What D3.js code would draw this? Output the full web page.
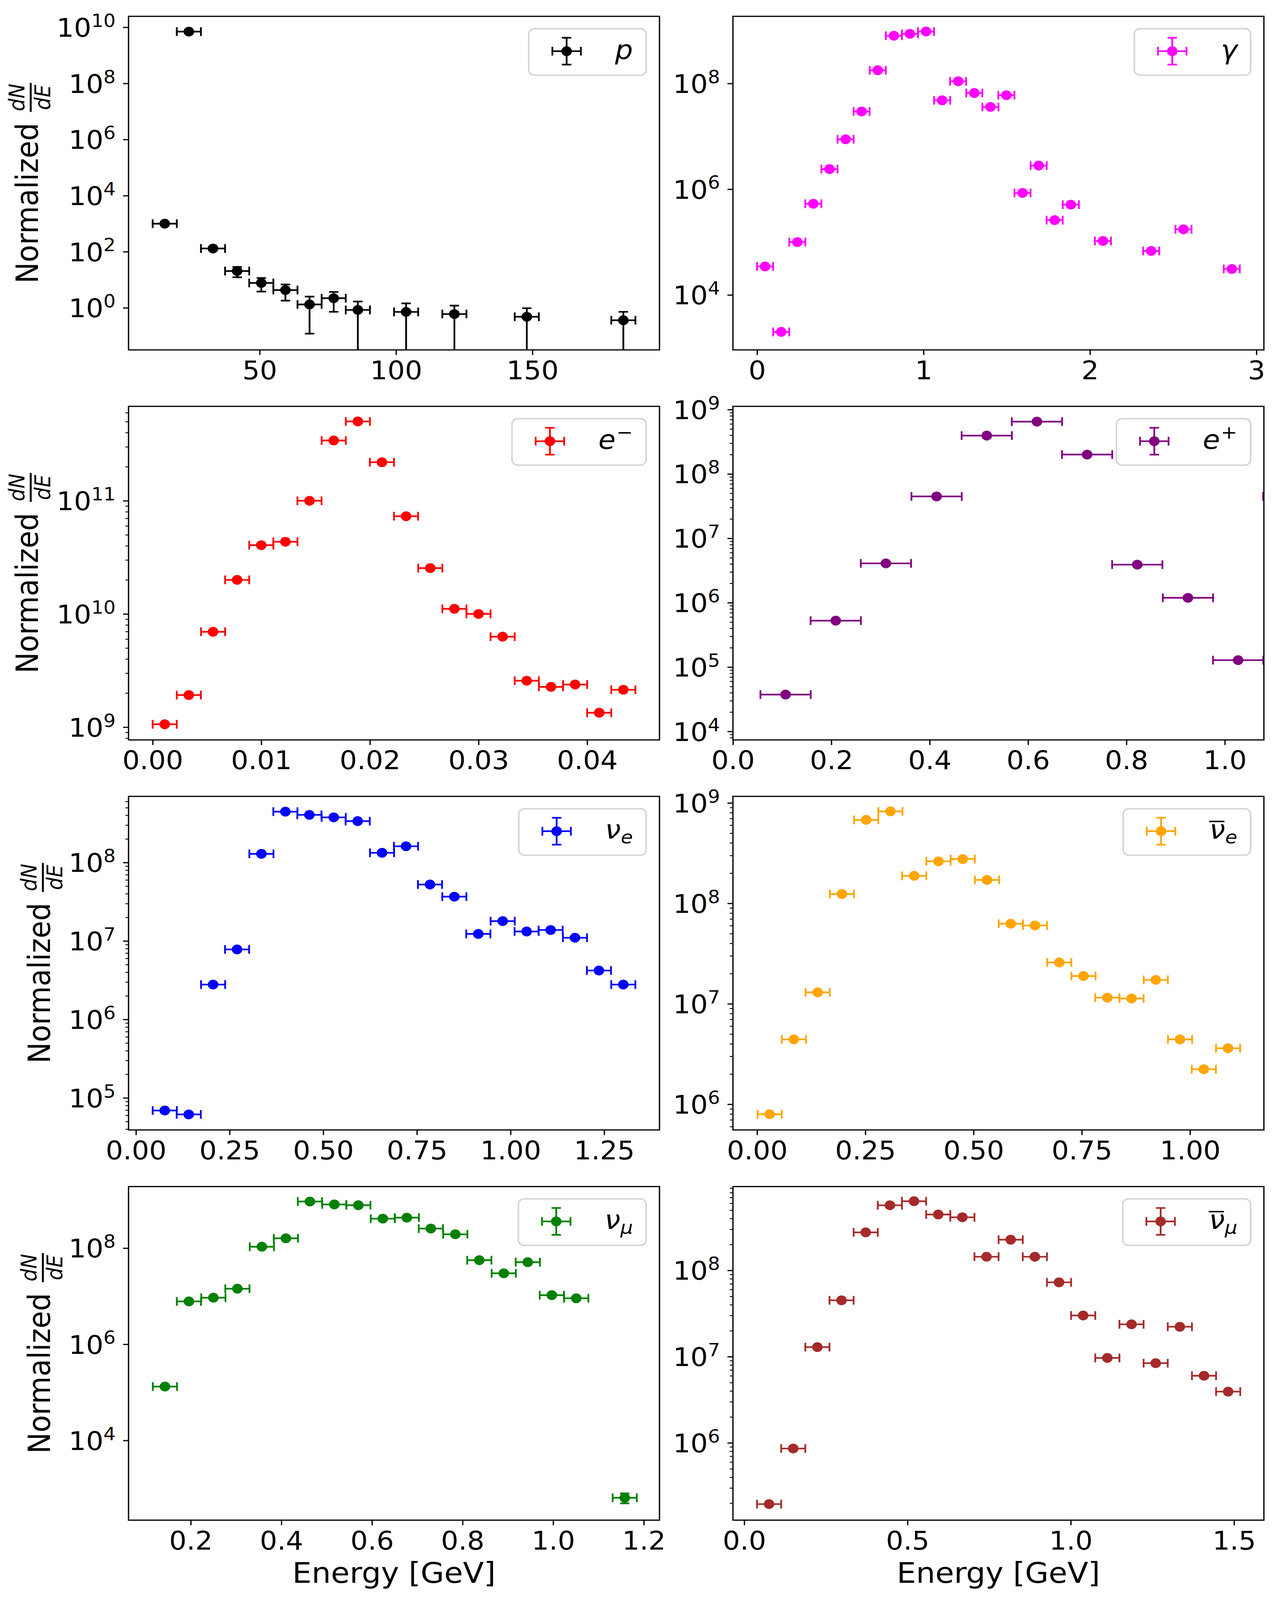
<!DOCTYPE html>
<html><head><meta charset="utf-8">
<script src="https://cdn.jsdelivr.net/npm/d3@7/dist/d3.min.js"></script>
<style>
html,body{margin:0;padding:0;background:#fff;width:100%;height:100%;overflow:hidden;}
svg{display:block;width:100vw;height:100vh;}
text{font-family:"DejaVu Sans",sans-serif;}
</style>
</head><body>
<svg id="chart" viewBox="0 0 3266 4408" preserveAspectRatio="none" xmlns="http://www.w3.org/2000/svg"></svg>
<script>
// ---------------- DATA ----------------
const protonE   = [15.2, 24.05, 32.9, 41.75, 50.6, 59.45, 68.3, 77.15, 86.0, 103.7, 121.4, 147.95, 183.35];
const protonN   = [1000, 7.0e9, 130, 20.5, 7.7, 4.3, 1.32, 2.2, 0.84, 0.715, 0.60, 0.48, 0.36];
const protonErr = [0, 0, 0, 8.2, 3.9, 2.5, 1.2, 1.48, 0.84, 0.73, 0.60, 0.49, 0.36];
const protonHalfBin = 4.425;

const gammaE = [0.048, 0.145, 0.242, 0.338, 0.435, 0.532, 0.628, 0.725, 0.822, 0.918, 1.015, 1.112, 1.208, 1.305, 1.402, 1.498, 1.595, 1.692, 1.788, 1.885, 2.078, 2.368, 2.562, 2.852];
const gammaN = [3.46e4, 2.0e3, 1.0e5, 5.3e5, 2.4e6, 8.8e6, 2.95e7, 1.78e8, 8.0e8, 8.7e8, 9.6e8, 4.8e7, 1.1e8, 6.6e7, 3.6e7, 6.0e7, 8.5e5, 2.8e6, 2.6e5, 5.1e5, 1.05e5, 6.8e4, 1.74e5, 3.1e4];
const gammaHalfBin = 0.0483;

const electronE = [0.00111, 0.00333, 0.00556, 0.00778, 0.0100, 0.01222, 0.01444, 0.01667, 0.01889, 0.02111, 0.02333, 0.02556, 0.02778, 0.0300, 0.03222, 0.03444, 0.03667, 0.03889, 0.04111, 0.04333];
const electronN = [1.06e9, 1.92e9, 6.96e9, 2.0e10, 4.05e10, 4.34e10, 1.0e11, 3.41e11, 5.02e11, 2.19e11, 7.3e10, 2.54e10, 1.11e10, 1.0e10, 6.3e9, 2.57e9, 2.27e9, 2.38e9, 1.34e9, 2.14e9];
const electronHalfBin = 0.00111;

const positronE = [0.107, 0.209, 0.311, 0.414, 0.516, 0.618, 0.720, 0.822, 0.925, 1.027, 1.129];
const positronN = [3.74e4, 5.26e5, 4.08e6, 4.47e7, 3.94e8, 6.5e8, 2.0e8, 3.9e6, 1.19e6, 1.28e5, 4.5e7];
const positronHalfBin = 0.0511;

const nueE = [0.077, 0.141, 0.206, 0.270, 0.335, 0.399, 0.463, 0.528, 0.592, 0.657, 0.721, 0.785, 0.850, 0.914, 0.979, 1.043, 1.107, 1.172, 1.236, 1.301];
const nueN = [6.9e4, 6.15e4, 2.78e6, 7.8e6, 1.29e8, 4.45e8, 4.05e8, 3.76e8, 3.37e8, 1.33e8, 1.61e8, 5.24e7, 3.67e7, 1.23e7, 1.79e7, 1.32e7, 1.38e7, 1.1e7, 4.2e6, 2.78e6];
const nueHalfBin = 0.0322;

const nuebarE = [0.029, 0.085, 0.140, 0.196, 0.252, 0.308, 0.363, 0.419, 0.475, 0.531, 0.586, 0.642, 0.698, 0.754, 0.809, 0.865, 0.921, 0.977, 1.032, 1.088];
const nuebarN = [7.95e5, 4.42e6, 1.30e7, 1.24e8, 6.78e8, 8.24e8, 1.88e8, 2.62e8, 2.76e8, 1.71e8, 6.27e7, 6.02e7, 2.58e7, 1.89e7, 1.15e7, 1.13e7, 1.73e7, 4.42e6, 2.23e6, 3.61e6];
const nuebarHalfBin = 0.0279;

const numuE   = [0.143, 0.196, 0.250, 0.303, 0.357, 0.410, 0.463, 0.517, 0.570, 0.624, 0.677, 0.730, 0.784, 0.837, 0.891, 0.944, 0.997, 1.051, 1.158];
const numuN   = [1.32e5, 7.78e6, 9.3e6, 1.43e7, 1.07e8, 1.6e8, 9.3e8, 8.1e8, 7.8e8, 4.1e8, 4.3e8, 2.55e8, 1.94e8, 5.6e7, 2.99e7, 5.1e7, 1.05e7, 9.06e6, 640];
const numuErr = [0, 0, 0, 0, 0, 0, 0, 0, 0, 0, 0, 0, 0, 0, 0, 0, 0, 0, 150];
const numuHalfBin = 0.0267;

const numubarE = [0.076, 0.150, 0.224, 0.298, 0.372, 0.446, 0.520, 0.594, 0.668, 0.742, 0.816, 0.890, 0.964, 1.038, 1.112, 1.186, 1.260, 1.334, 1.408, 1.482];
const numubarN = [1.95e5, 8.6e5, 1.29e7, 4.5e7, 2.76e8, 5.69e8, 6.34e8, 4.45e8, 4.13e8, 1.44e8, 2.27e8, 1.44e8, 7.27e7, 3.0e7, 9.65e6, 2.37e7, 8.4e6, 2.22e7, 6.0e6, 3.93e6];
const numubarHalfBin = 0.037;

// axis limits (x linear, y as log10 exponents) and tick labels
const protonXLim = [1.93, 196.6],     protonYExp = [-1.5, 10.39];
const gammaXLim = [-0.145, 3.045],    gammaYExp = [2.96, 9.27];
const electronXLim = [-0.00222, 0.04666], electronYExp = [8.887, 11.834];
const positronXLim = [0, 1.0794],     positronYExp = [3.868, 9.05];
const nueXLim = [-0.0197, 1.3976],    nueYExp = [4.591, 8.843];
const nuebarXLim = [-0.0558, 1.1707], nuebarYExp = [5.744, 9.065];
const numuXLim = [0.0627, 1.2347],    numuYExp = [2.342, 9.28];
const numubarXLim = [-0.0346, 1.5914], numubarYExp = [5.104, 8.972];

const protonXTicks = [50, 100, 150],            protonYTicks = [0, 2, 4, 6, 8, 10];
const gammaXTicks = [0, 1, 2, 3],               gammaYTicks = [4, 6, 8];
const electronXTicks = [0, 0.01, 0.02, 0.03, 0.04], electronYTicks = [9, 10, 11];
const positronXTicks = [0, 0.2, 0.4, 0.6, 0.8, 1.0], positronYTicks = [4, 5, 6, 7, 8, 9];
const nueXTicks = [0, 0.25, 0.5, 0.75, 1.0, 1.25], nueYTicks = [5, 6, 7, 8];
const nuebarXTicks = [0, 0.25, 0.5, 0.75, 1.0],  nuebarYTicks = [6, 7, 8, 9];
const numuXTicks = [0.2, 0.4, 0.6, 0.8, 1.0, 1.2], numuYTicks = [4, 6, 8];
const numubarXTicks = [0, 0.5, 1.0, 1.5],        numubarYTicks = [6, 7, 8];

const panels = [
  {E: protonE, N: protonN, err: protonErr, half: protonHalfBin, color: '#000000', xLim: protonXLim, yExp: protonYExp, xTicks: protonXTicks, yTicks: protonYTicks, fmt: 'd', minor: false, leg: {main: 'p'}},
  {E: gammaE, N: gammaN, err: null, half: gammaHalfBin, color: '#ff00ff', xLim: gammaXLim, yExp: gammaYExp, xTicks: gammaXTicks, yTicks: gammaYTicks, fmt: 'd', minor: false, leg: {main: 'γ'}},
  {E: electronE, N: electronN, err: null, half: electronHalfBin, color: '#ff0000', xLim: electronXLim, yExp: electronYExp, xTicks: electronXTicks, yTicks: electronYTicks, fmt: '.2f', minor: true, leg: {main: 'e', sup: '−'}},
  {E: positronE, N: positronN, err: null, half: positronHalfBin, color: '#800080', xLim: positronXLim, yExp: positronYExp, xTicks: positronXTicks, yTicks: positronYTicks, fmt: '.1f', minor: true, leg: {main: 'e', sup: '+'}},
  {E: nueE, N: nueN, err: null, half: nueHalfBin, color: '#0000ff', xLim: nueXLim, yExp: nueYExp, xTicks: nueXTicks, yTicks: nueYTicks, fmt: '.2f', minor: true, leg: {main: 'ν', sub: 'e'}},
  {E: nuebarE, N: nuebarN, err: null, half: nuebarHalfBin, color: '#ffa500', xLim: nuebarXLim, yExp: nuebarYExp, xTicks: nuebarXTicks, yTicks: nuebarYTicks, fmt: '.2f', minor: true, leg: {main: 'ν', sub: 'e', bar: true}},
  {E: numuE, N: numuN, err: numuErr, half: numuHalfBin, color: '#008000', xLim: numuXLim, yExp: numuYExp, xTicks: numuXTicks, yTicks: numuYTicks, fmt: '.1f', minor: false, leg: {main: 'ν', sub: 'μ'}},
  {E: numubarE, N: numubarN, err: null, half: numubarHalfBin, color: '#a52a2a', xLim: numubarXLim, yExp: numubarYExp, xTicks: numubarXTicks, yTicks: numubarYTicks, fmt: '.1f', minor: true, leg: {main: 'ν', sub: 'μ', bar: true}}
];

// ---------------- LAYOUT ----------------
const W = 3266, H = 4408;
const colLeft = [329, 1876], panelW = 1359;
const rowTop = [45, 1119.5, 2194, 3269], panelH = 919;
const TICK_FS = 70, LABEL_FS = 78, LEG_FS = 72, FRAC_FS = 55;
const LW = 4.5, CAP = 12, MR = 13.5, SPINE = 3.3;

const svg = d3.select('#chart');
svg.append('rect').attr('width', W).attr('height', H).attr('fill', '#fff');
const defs = svg.append('defs');

panels.forEach((P, i) => {
  const col = i % 2, row = Math.floor(i / 2);
  const left = colLeft[col], top = rowTop[row];
  const g = svg.append('g').attr('transform', `translate(${left},${top})`);
  const x = d3.scaleLinear().domain(P.xLim).range([0, panelW]);
  const y = d3.scaleLog().domain([Math.pow(10, P.yExp[0]), Math.pow(10, P.yExp[1])]).range([panelH, 0]);

  defs.append('clipPath').attr('id', 'clip' + i)
    .append('rect').attr('x', 0).attr('y', 0).attr('width', panelW).attr('height', panelH);
  const plot = g.append('g').attr('clip-path', `url(#clip${i})`);

  const pts = P.E.map((e, j) => ({x: e, y: P.N[j], e: P.err ? P.err[j] : 0}));

  // error bars
  const bars = plot.append('g').attr('stroke', P.color).attr('stroke-width', LW).attr('fill', 'none');
  bars.selectAll('line.h').data(pts).join('line').attr('class', 'h')
    .attr('x1', d => x(d.x - P.half)).attr('x2', d => x(d.x + P.half))
    .attr('y1', d => y(d.y)).attr('y2', d => y(d.y));
  const capsX = pts.flatMap(d => [{px: x(d.x - P.half), py: y(d.y)}, {px: x(d.x + P.half), py: y(d.y)}]);
  bars.selectAll('line.hc').data(capsX).join('line').attr('class', 'hc')
    .attr('x1', d => d.px).attr('x2', d => d.px).attr('y1', d => d.py - CAP).attr('y2', d => d.py + CAP);
  const withErr = pts.filter(d => d.e > 0);
  const yLow = d => (d.y - d.e > 0 ? y(d.y - d.e) : panelH + 200);
  bars.selectAll('line.v').data(withErr).join('line').attr('class', 'v')
    .attr('x1', d => x(d.x)).attr('x2', d => x(d.x))
    .attr('y1', d => y(d.y + d.e)).attr('y2', d => yLow(d));
  const capsY = withErr.flatMap(d => [{px: x(d.x), py: y(d.y + d.e)}, {px: x(d.x), py: yLow(d)}]);
  bars.selectAll('line.vc').data(capsY).join('line').attr('class', 'vc')
    .attr('x1', d => d.px - CAP).attr('x2', d => d.px + CAP).attr('y1', d => d.py).attr('y2', d => d.py);

  // markers
  plot.append('g').selectAll('circle').data(pts).join('circle')
    .attr('cx', d => x(d.x)).attr('cy', d => y(d.y)).attr('r', MR).attr('fill', P.color);

  // x axis
  const gx = g.append('g').attr('transform', `translate(0,${panelH})`)
    .call(d3.axisBottom(x).tickValues(P.xTicks).tickFormat(d3.format(P.fmt)).tickSize(14).tickPadding(17));
  gx.select('.domain').remove();
  gx.attr('font-size', TICK_FS).attr('font-family', '"DejaVu Sans", sans-serif');
  gx.selectAll('line').attr('stroke', '#000').attr('stroke-width', SPINE);
  gx.selectAll('text').attr('fill', '#000');

  // y minor ticks
  if (P.minor) {
    const minors = [];
    for (let d = Math.floor(P.yExp[0]); d <= Math.ceil(P.yExp[1]); d++) {
      for (let k = 2; k <= 9; k++) {
        const v = k * Math.pow(10, d);
        const lv = Math.log10(v);
        if (lv >= P.yExp[0] && lv <= P.yExp[1]) minors.push(v);
      }
    }
    const gm = g.append('g').call(d3.axisLeft(y).tickValues(minors).tickFormat('').tickSize(8));
    gm.select('.domain').remove();
    gm.selectAll('line').attr('stroke', '#000').attr('stroke-width', 2.4);
    gm.selectAll('text').remove();
  }

  // y major ticks
  const gy = g.append('g')
    .call(d3.axisLeft(y).tickValues(P.yTicks.map(e => Math.pow(10, e))).tickFormat('').tickSize(14));
  gy.select('.domain').remove();
  gy.selectAll('line').attr('stroke', '#000').attr('stroke-width', SPINE);
  gy.selectAll('text').remove();
  let labLeft = Infinity;
  gy.selectAll('.tick').each(function(v) {
    const exp = Math.round(Math.log10(v));
    const t = d3.select(this).append('text').attr('x', -33).attr('y', 25.5)
      .attr('text-anchor', 'end').attr('fill', '#000').attr('font-size', TICK_FS)
      .attr('font-family', '"DejaVu Sans", sans-serif');
    t.append('tspan').text('10');
    t.append('tspan').attr('dy', -27).attr('font-size', TICK_FS * 0.7).text(String(exp));
    const bb = t.node().getBBox();
    labLeft = Math.min(labLeft, bb.x);
  });

  // frame
  g.append('rect').attr('width', panelW).attr('height', panelH)
    .attr('fill', 'none').attr('stroke', '#000').attr('stroke-width', SPINE);

  // y label (left column only)
  if (col === 0) {
    const baseX = left + labLeft - 48;
    const cy = top + panelH / 2;
    const lg = svg.append('g');
    const inner = lg.append('g');
    const t1 = inner.append('text').attr('x', 0).attr('y', 0).attr('font-size', LABEL_FS).attr('fill', '#000').text('Normalized');
    const w1 = t1.node().getComputedTextLength();
    const gap = 30;
    const num = inner.append('text').attr('font-size', FRAC_FS).attr('font-style', 'italic').attr('fill', '#000').attr('text-anchor', 'middle').text('dN');
    const den = inner.append('text').attr('font-size', FRAC_FS).attr('font-style', 'italic').attr('fill', '#000').attr('text-anchor', 'middle').text('dE');
    const fw = Math.max(num.node().getComputedTextLength(), den.node().getComputedTextLength()) + 4;
    const fx = w1 + gap;
    num.attr('x', fx + fw / 2).attr('y', -35);
    den.attr('x', fx + fw / 2).attr('y', 31);
    inner.append('line').attr('x1', fx).attr('x2', fx + fw).attr('y1', -18).attr('y2', -18)
      .attr('stroke', '#000').attr('stroke-width', 5);
    const L = fx + fw;
    lg.attr('transform', `translate(${baseX},${cy + L / 2}) rotate(-90)`);
  }

  // x label (bottom row only)
  if (row === 3) {
    g.append('text').attr('x', panelW / 2).attr('y', panelH + 173).attr('text-anchor', 'middle')
      .attr('font-size', LABEL_FS).attr('fill', '#000').text('Energy [GeV]');
  }

  // legend
  const leg = g.append('g');
  const frame = leg.append('rect');
  const lt = leg.append('g');
  const mainT = lt.append('text').attr('x', 0).attr('y', 0).attr('font-size', LEG_FS).attr('font-style', 'italic').attr('fill', '#000').text(P.leg.main);
  const wMain = mainT.node().getComputedTextLength();
  let wTot = wMain;
  if (P.leg.sup) {
    const s = lt.append('text').attr('x', wMain + 2).attr('y', -28).attr('font-size', LEG_FS * 0.7).attr('fill', '#000').text(P.leg.sup);
    wTot = wMain + 2 + s.node().getComputedTextLength();
  }
  if (P.leg.sub) {
    const s = lt.append('text').attr('x', wMain).attr('y', 12.6).attr('font-size', LEG_FS * 0.7).attr('font-style', 'italic').attr('fill', '#000').text(P.leg.sub);
    wTot = wMain + s.node().getComputedTextLength();
  }
  if (P.leg.bar) {
    lt.append('line').attr('x1', -1).attr('x2', wMain - 2).attr('y1', -48).attr('y2', -48).attr('stroke', '#000').attr('stroke-width', 4);
  }
  const frameRight = panelW - 34, frameTop = 34, frameH = 128;
  const textLeft = frameRight - 34 - wTot;
  const mx = textLeft - 124, my = frameTop + 62;
  const frameLeft = mx - 97;
  lt.attr('transform', `translate(${textLeft},${my + 21})`);
  frame.attr('x', frameLeft).attr('y', frameTop).attr('width', frameRight - frameLeft).attr('height', frameH)
    .attr('rx', 15).attr('ry', 15).attr('fill', '#fff').attr('fill-opacity', 0.8)
    .attr('stroke', '#cccccc').attr('stroke-opacity', 0.85).attr('stroke-width', 4);
  const lm = leg.append('g').attr('stroke', P.color).attr('stroke-width', LW);
  const HS = 36.5, VS = 37;
  lm.append('line').attr('x1', mx - HS).attr('x2', mx + HS).attr('y1', my).attr('y2', my);
  lm.append('line').attr('x1', mx).attr('x2', mx).attr('y1', my - VS).attr('y2', my + VS);
  [mx - HS, mx + HS].forEach(px => lm.append('line').attr('x1', px).attr('x2', px).attr('y1', my - CAP).attr('y2', my + CAP));
  [my - VS, my + VS].forEach(py => lm.append('line').attr('x1', mx - CAP).attr('x2', mx + CAP).attr('y1', py).attr('y2', py));
  leg.append('circle').attr('cx', mx).attr('cy', my).attr('r', MR).attr('fill', P.color);
});
</script>
</body></html>
